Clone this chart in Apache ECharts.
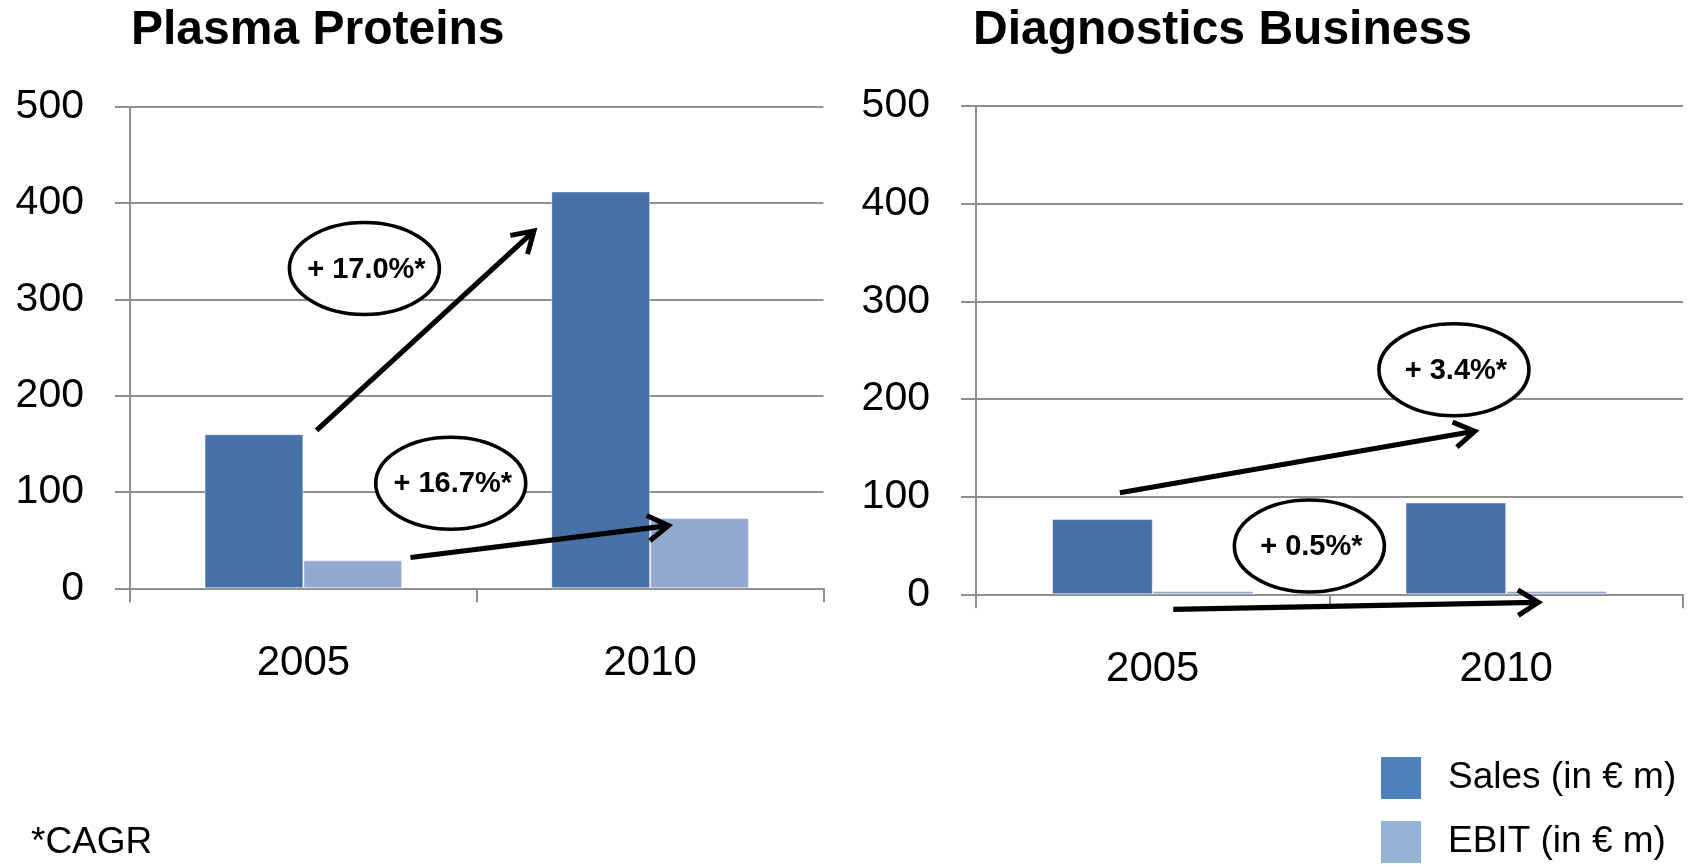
<!DOCTYPE html>
<html>
<head>
<meta charset="utf-8">
<title>Plasma Proteins and Diagnostics Business</title>
<script src="https://cdn.jsdelivr.net/npm/echarts@6/dist/echarts.min.js"></script>
<style>
  html, body { margin: 0; padding: 0; background: #fff; }
  #chart { width: 1688px; height: 866px; }
</style>
</head>
<body>
<div id="chart"></div>
<script>
// Categories and values (€ m)
const years = ['2005', '2010'];
const plasmaSales = [160, 412];
const plasmaEbit = [29, 73];
const diagSales = [77, 94];
const diagEbit = [3.4, 3.5];

// Value axis ticks
const yMin = 0;
const yMax = 500;
const yStep = 100;

// Panel titles and legend labels
const panelTitles = ['Plasma Proteins', 'Diagnostics Business'];
const salesName = 'Sales (in € m)';
const ebitName = 'EBIT (in € m)';
const footnote = '*CAGR';

// Growth callouts: position given as [category index (fractional), value]
const plasmaCallouts = [
  { label: '+ 17.0%*', badge: [0.176, 332], from: [0.038, 164], to: [0.665, 371] },
  { label: '+ 16.7%*', badge: [0.425, 109], from: [0.309, 32], to: [1.053, 65] }
];
const diagCallouts = [
  { label: '+ 3.4%*', badge: [0.852, 230], from: [-0.093, 104], to: [0.911, 167] },
  { label: '+ 0.5%*', badge: [0.443, 49.5], from: [0.058, -15.4], to: [1.091, -8.2] }
];

const FONT = '"Liberation Sans", Arial, sans-serif';
const GRID_GRAY = '#8f8f8f';
const SALES_BAR = '#4672A7';
const EBIT_BAR = '#93A9CF';
const SALES_KEY = '#4F81BD';
const EBIT_KEY = '#95B3D7';

const chart = echarts.init(document.getElementById('chart'), null, { renderer: 'canvas' });

function xAxisFor(gridIndex, margin) {
  return {
    type: 'category',
    gridIndex: gridIndex,
    data: years,
    axisLine: { show: true, lineStyle: { color: GRID_GRAY, width: 2 } },
    axisTick: { show: true, length: 14, lineStyle: { color: GRID_GRAY, width: 2 } },
    axisLabel: { fontFamily: FONT, fontSize: 42, color: '#000', margin: margin }
  };
}

function yAxisFor(gridIndex) {
  return {
    type: 'value',
    gridIndex: gridIndex,
    min: yMin,
    max: yMax,
    interval: yStep,
    axisLine: { show: true, lineStyle: { color: GRID_GRAY, width: 2 } },
    axisTick: { show: true, length: 15, lineStyle: { color: GRID_GRAY, width: 2 } },
    splitLine: { show: true, lineStyle: { color: GRID_GRAY, width: 2 } },
    axisLabel: { fontFamily: FONT, fontSize: 41, color: '#000', margin: 46 }
  };
}

function barSeries(name, data, idx, color) {
  return {
    name: name,
    type: 'bar',
    xAxisIndex: idx,
    yAxisIndex: idx,
    data: data,
    barGap: '0%',
    barCategoryGap: '43%',
    itemStyle: { color: color, borderColor: 'rgba(255,255,255,0.45)', borderWidth: 1 },
    emphasis: { disabled: true },
    animation: false
  };
}

chart.setOption({
  animation: false,
  backgroundColor: '#fff',
  title: [
    { text: panelTitles[0], left: 131, top: 7, padding: 0,
      textStyle: { fontFamily: FONT, fontSize: 48, fontWeight: 'bold', color: '#000' } },
    { text: panelTitles[1], left: 973, top: 7, padding: 0,
      textStyle: { fontFamily: FONT, fontSize: 48, fontWeight: 'bold', color: '#000' } }
  ],
  legend: {
    orient: 'vertical',
    left: 1381,
    top: 757,
    padding: 0,
    itemWidth: 40,
    itemHeight: 42,
    itemGap: 22,
    icon: 'rect',
    selectedMode: false,
    textStyle: { fontFamily: FONT, fontSize: 37, color: '#000', padding: [0, 0, 0, 22] },
    data: [
      { name: salesName, itemStyle: { color: SALES_KEY, borderWidth: 0 } },
      { name: ebitName, itemStyle: { color: EBIT_KEY, borderWidth: 0 } }
    ]
  },
  grid: [
    { left: 130, top: 106.7, width: 693.5, height: 481.6 },
    { left: 976, top: 106, width: 707, height: 488.3 }
  ],
  xAxis: [xAxisFor(0, 54), xAxisFor(1, 54)],
  yAxis: [yAxisFor(0), yAxisFor(1)],
  series: [
    barSeries(salesName, plasmaSales, 0, SALES_BAR),
    barSeries(ebitName, plasmaEbit, 0, EBIT_BAR),
    barSeries(salesName, diagSales, 1, SALES_BAR),
    barSeries(ebitName, diagEbit, 1, EBIT_BAR)
  ]
});

// Map a [fractional category, value] pair to pixels in a grid
function toPixel(gridIndex, pt) {
  const a = chart.convertToPixel({ gridIndex: gridIndex }, [0, pt[1]]);
  const b = chart.convertToPixel({ gridIndex: gridIndex }, [1, pt[1]]);
  return [a[0] + pt[0] * (b[0] - a[0]), a[1]];
}

function arrowElements(p0, p1) {
  const dx = p1[0] - p0[0];
  const dy = p1[1] - p0[1];
  const len = Math.sqrt(dx * dx + dy * dy);
  const ux = dx / len, uy = dy / len;
  const head = 24, spread = 32 * Math.PI / 180;
  const arm = function (sign) {
    const c = Math.cos(sign * spread), s = Math.sin(sign * spread);
    const bx = -ux, by = -uy;
    return [p1[0] + head * (bx * c - by * s), p1[1] + head * (bx * s + by * c)];
  };
  return [
    { type: 'line', z: 110, silent: true,
      shape: { x1: p0[0], y1: p0[1], x2: p1[0] - ux * 2, y2: p1[1] - uy * 2 },
      style: { stroke: '#000', lineWidth: 5.2, lineCap: 'butt' } },
    { type: 'polyline', z: 110, silent: true,
      shape: { points: [arm(1), p1, arm(-1)] },
      style: { stroke: '#000', lineWidth: 5, fill: null, lineJoin: 'miter', lineCap: 'butt' } }
  ];
}

function calloutElements(gridIndex, items) {
  const out = [];
  items.forEach(function (c) {
    const ctr = toPixel(gridIndex, c.badge);
    out.push({
      type: 'ellipse', z: 105, silent: true,
      shape: { cx: ctr[0], cy: ctr[1], rx: 75, ry: 46 },
      style: { fill: '#fff', stroke: '#000', lineWidth: 3.6 }
    });
    out.push({
      type: 'text', z: 106, silent: true, x: ctr[0] + 2, y: ctr[1] + 1,
      style: { text: c.label, fontFamily: FONT, fontSize: 29, fontWeight: 'bold',
               fill: '#000', align: 'center', verticalAlign: 'middle' }
    });
    arrowElements(toPixel(gridIndex, c.from), toPixel(gridIndex, c.to))
      .forEach(function (e) { out.push(e); });
  });
  return out;
}

const graphics = []
  .concat(calloutElements(0, plasmaCallouts))
  .concat(calloutElements(1, diagCallouts));

graphics.push({
  type: 'text', silent: true, x: 31, y: 843,
  style: { text: footnote, fontFamily: FONT, fontSize: 37, fill: '#000',
           align: 'left', verticalAlign: 'middle' }
});

chart.setOption({ graphic: graphics });
</script>
</body>
</html>
